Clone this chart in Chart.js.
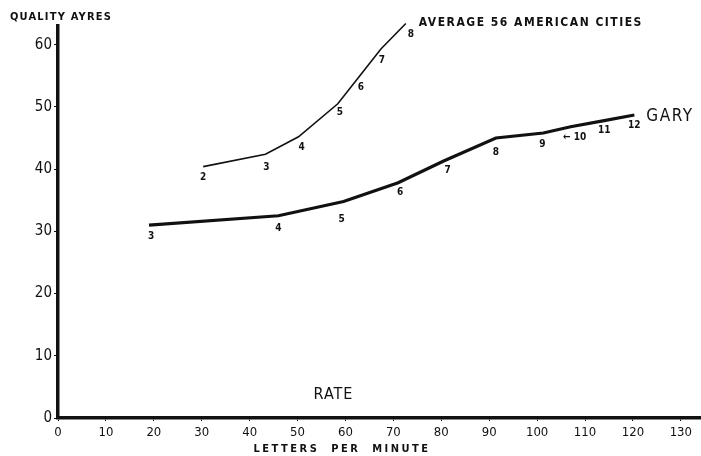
<!DOCTYPE html>
<html>
<head>
<meta charset="utf-8">
<script src="https://cdn.jsdelivr.net/npm/chart.js@4"></script>
<style>
  html, body { margin: 0; padding: 0; background: #fff; }
  #wrap { width: 701px; height: 456px; }
</style>
</head>
<body>
<div id="wrap"><canvas id="chart" width="701" height="456"></canvas></div>
<script>
// rate (letters per minute) and Ayres quality, by school grade
const garyGrades = ["3","4","5","6","7","8","9","10","11","12"];
const garyRate = [19, 46, 59.6, 71, 80.5, 91.4, 101.3, 107, 114, 120.3];
const garyQuality = [31.0, 32.5, 34.8, 37.8, 41.3, 45.0, 45.8, 46.8, 47.8, 48.7];

const citiesGrades = ["2","3","4","5","6","7","8"];
const citiesRate = [30.3, 43.3, 50.2, 58.4, 62.8, 67.4, 72.6];
const citiesQuality = [40.4, 42.4, 45.2, 50.5, 54.8, 59.3, 63.4];

const xTicks = [0,10,20,30,40,50,60,70,80,90,100,110,120,130];
const yTicks = [0,10,20,30,40,50,60];

// label offsets in px (style only)
const garyLabelOffset = [[2,11],[0,13],[-2,18],[2,10],[4,9],[0,14],[-1,11],[4,11],[0,10],[0,10]];
const citiesLabelOffset = [[0,11],[1,13],[3,11],[2,9],[2,10],[1,11],[5,11]];

const FONT = "'DejaVu Sans Condensed', 'DejaVu Sans', sans-serif";

function pts(xs, ys) { return xs.map((x, i) => ({ x: x, y: ys[i] })); }

const textPlugin = {
  id: 'texts',
  afterDatasetsDraw(chart) {
    const ctx = chart.ctx;
    const xs = chart.scales.x, ys = chart.scales.y;
    ctx.save();
    ctx.fillStyle = '#111';
    ctx.textAlign = 'center';
    ctx.textBaseline = 'middle';
    ctx.font = 'bold 10px ' + FONT;
    garyGrades.forEach((g, i) => {
      const px = xs.getPixelForValue(garyRate[i]) + garyLabelOffset[i][0];
      const py = ys.getPixelForValue(garyQuality[i]) + garyLabelOffset[i][1];
      ctx.fillText(g === "10" ? "\u2190 10" : g, px, py);
    });
    citiesGrades.forEach((g, i) => {
      const px = xs.getPixelForValue(citiesRate[i]) + citiesLabelOffset[i][0];
      const py = ys.getPixelForValue(citiesQuality[i]) + citiesLabelOffset[i][1];
      ctx.fillText(g, px, py);
    });
    // series names
    ctx.textAlign = 'left';
    ctx.font = 'bold 12px ' + FONT;
    ctx.letterSpacing = '1.5px';
    ctx.fillText('AVERAGE 56 AMERICAN CITIES',
      xs.getPixelForValue(citiesRate[citiesRate.length - 1]) + 13,
      ys.getPixelForValue(citiesQuality[citiesQuality.length - 1]) - 1);
    ctx.font = '17px ' + FONT;
    ctx.letterSpacing = '1.5px';
    ctx.fillText('GARY',
      xs.getPixelForValue(garyRate[garyRate.length - 1]) + 12,
      ys.getPixelForValue(garyQuality[garyQuality.length - 1]) + 2);
    ctx.font = '16px ' + FONT;
    ctx.letterSpacing = '1px';
    ctx.textAlign = 'center';
    ctx.fillText('RATE', xs.getPixelForValue(57.5), ys.getPixelForValue(3.7));
    // axis titles
    ctx.font = 'bold 11px ' + FONT;
    ctx.letterSpacing = '1.2px';
    ctx.textAlign = 'left';
    ctx.fillText('QUALITY AYRES', 10, 17);
    ctx.letterSpacing = '2.5px';
    ctx.textAlign = 'center';
    ctx.fillText('LETTERS  PER  MINUTE', 342, 449);
    ctx.restore();
  }
};

new Chart(document.getElementById('chart').getContext('2d'), {
  type: 'line',
  data: {
    datasets: [
      {
        label: 'Gary',
        data: pts(garyRate, garyQuality),
        borderColor: '#111',
        borderWidth: 3.2,
        pointRadius: 0,
        tension: 0
      },
      {
        label: 'Average 56 American Cities',
        data: pts(citiesRate, citiesQuality),
        borderColor: '#111',
        borderWidth: 1.6,
        pointRadius: 0,
        tension: 0
      }
    ]
  },
  options: {
    responsive: false,
    animation: false,
    clip: false,
    layout: { padding: { top: 26, right: 1, left: 0, bottom: 0 } },
    plugins: { legend: { display: false }, tooltip: { enabled: false } },
    scales: {
      x: {
        type: 'linear',
        min: 0,
        max: 134,
        afterBuildTicks: (s) => { s.ticks = xTicks.map(v => ({ value: v })); },
        afterFit: (s) => { s.height = 38; },
        grid: { display: true, drawOnChartArea: false, tickLength: 3, color: '#111' },
        border: { display: true, color: '#111', width: 3.5 },
        ticks: { color: '#111', font: { family: FONT, size: 13 }, padding: 4, maxRotation: 0, autoSkip: false }
      },
      y: {
        type: 'linear',
        min: 0,
        max: 63,
        afterBuildTicks: (s) => { s.ticks = yTicks.map(v => ({ value: v })); },
        afterFit: (s) => { s.width = 58; },
        grid: { display: true, drawOnChartArea: false, tickLength: 4, color: '#111' },
        border: { display: true, color: '#111', width: 3.5 },
        ticks: { color: '#111', font: { family: FONT, size: 15 }, padding: 2, autoSkip: false }
      }
    }
  },
  plugins: [textPlugin]
});
</script>
</body>
</html>
